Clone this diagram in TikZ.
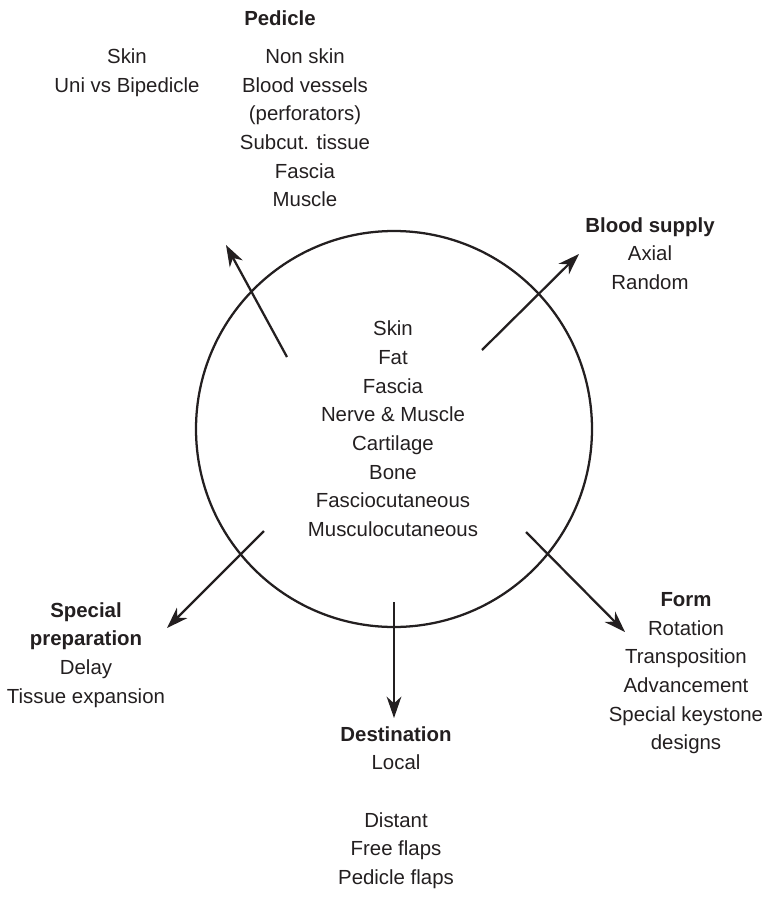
\documentclass[tikz,border=0pt]{standalone}
\usepackage{fontspec}
\setmainfont{Liberation Sans}
\usetikzlibrary{arrows.meta}
\definecolor{ink}{HTML}{231F20}
\newcommand\blk[1]{\begin{tabular}[t]{@{}c@{}}#1\end{tabular}}
\tikzset{
  lbl/.style={anchor=base, inner sep=0pt, text=ink, font=\fontsize{15.3}{21.5}\selectfont},
  arr/.style={draw=ink, line width=1.7pt, -{Stealth[length=16pt,width=11pt,inset=5pt]}},
  ring/.style={draw=ink, line width=1.7pt}
}
\begin{document}
\begin{tikzpicture}[x=0.75pt,y=-0.75pt]
\useasboundingbox (0,0) rectangle (768,918);
% circle
\node[ring, circle, minimum size=396*0.75pt, inner sep=0pt] (c) at (394,429) {};
% labels
\node[lbl] (ped) at (280,25.3) {\textbf{Pedicle}};
\node[lbl] (pedl) at (127,63.5) {\blk{Skin\\Uni vs Bipedicle}};
\node[lbl] (pedr) at (305,63.5) {\blk{Non skin\\Blood vessels\\(perforators)\\Subcut. tissue\\Fascia\\Muscle}};
\node[lbl] (blood) at (650,232) {\blk{\textbf{Blood supply}\\Axial\\Random}};
\node[lbl] (tissue) at (393,335.8) {\blk{Skin\\Fat\\Fascia\\Nerve \& Muscle\\Cartilage\\Bone\\Fasciocutaneous\\Musculocutaneous}};
\node[lbl] (spec) at (86,617.2) {\blk{\textbf{Special}\\\textbf{preparation}\\Delay\\Tissue expansion}};
\node[lbl] (form) at (686,606.6) {\blk{\textbf{Form}\\Rotation\\Transposition\\Advancement\\Special keystone\\designs}};
\node[lbl] (dest) at (396,741) {\blk{\textbf{Destination}\\Local\\[28.7\dimexpr0.75pt\relax]Distant\\Free flaps\\Pedicle flaps}};
% arrow ends
\coordinate (a1s) at (287,357); \coordinate (a1e) at (226,245);
\coordinate (a2s) at (482,350); \coordinate (a2e) at (579,254);
\coordinate (a3s) at (264,531); \coordinate (a3e) at (167,628);
\coordinate (a4s) at (394,602); \coordinate (a4e) at (394,718);
\coordinate (a5s) at (526,532); \coordinate (a5e) at (625,632);
\draw[arr] (a1s) -- (a1e);
\draw[arr] (a2s) -- (a2e);
\draw[arr] (a3s) -- (a3e);
\draw[arr] (a4s) -- (a4e);
\draw[arr] (a5s) -- (a5e);
\end{tikzpicture}
\end{document}
